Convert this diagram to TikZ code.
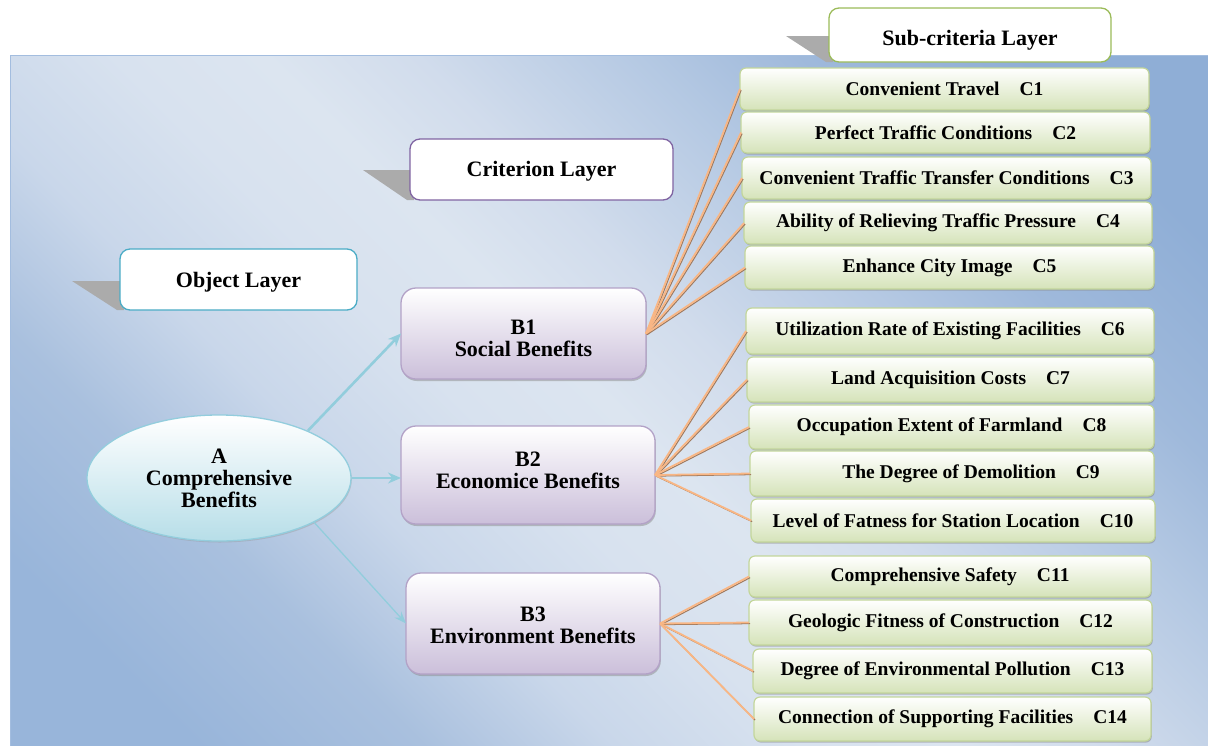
\documentclass[tikz,border=0pt]{standalone}
\usepackage{fontspec}
\setmainfont{Liberation Serif}
\usetikzlibrary{shadows,arrows.meta,shapes.geometric}
\definecolor{cborder}{HTML}{C3D69B}
\definecolor{cfill}{HTML}{D5E3B9}
\definecolor{bborder}{HTML}{B3A2C7}
\definecolor{bfill}{HTML}{CBBFDA}
\definecolor{aborder}{HTML}{93CDDD}
\definecolor{afill}{HTML}{B7DEE8}
\definecolor{orng}{HTML}{F9B684}
\definecolor{orngsh}{HTML}{A07A5E}
\definecolor{arrc}{HTML}{92CDDC}
\definecolor{objc}{HTML}{4BACC6}
\definecolor{crtc}{HTML}{8064A2}
\definecolor{subc}{HTML}{9BBB59}
\definecolor{panelb}{HTML}{A3BDDF}
\definecolor{bgA}{HTML}{98B5DA}
\definecolor{bgB}{HTML}{A9C0DE}
\definecolor{bgC}{HTML}{C9D7EA}
\definecolor{bgD}{HTML}{D8E2EF}
\definecolor{bgE}{HTML}{DCE5F0}
\definecolor{bgF}{HTML}{D1DCEC}
\definecolor{bgG}{HTML}{B5C9E3}
\definecolor{bgH}{HTML}{9FB9DB}
\definecolor{bgI}{HTML}{8FAED6}
\pgfdeclarehorizontalshading{bgsh}{100bp}{color(0bp)=(bgA); color(21.5bp)=(bgA); color(30bp)=(bgB); color(37.2bp)=(bgC); color(44.3bp)=(bgD); color(50bp)=(bgE); color(55.7bp)=(bgF); color(64bp)=(bgG); color(70.2bp)=(bgH); color(78.5bp)=(bgI); color(100bp)=(bgI)}
\begin{document}
\begin{tikzpicture}[x=1pt,y=-1pt,
  cbox/.style={draw=cborder, line width=1.2pt, rounded corners=6pt, top color=white, bottom color=cfill,
    inner sep=0pt, outer sep=0pt, font=\fontsize{19.5}{22}\selectfont\bfseries,
    drop shadow={shadow xshift=0.8pt, shadow yshift=-1.6pt, fill=black!45, opacity=0.55}},
  bbox/.style={draw=bborder, line width=1.3pt, rounded corners=15pt, top color=white, bottom color=bfill,
    inner sep=0pt, outer sep=0pt, align=center, font=\fontsize{22}{22}\selectfont\bfseries,
    drop shadow={shadow xshift=0.8pt, shadow yshift=-2pt, fill=black!45, opacity=0.5}},
  lbox/.style={fill=white, line width=1.3pt, rounded corners=10pt, inner sep=0pt, outer sep=0pt,
    text depth=4pt, font=\fontsize{22}{22}\selectfont\bfseries},
  lshadow/.style={fill=black!33},
  arr/.style={draw=arrc, line width=2.6pt, -{Stealth[length=13pt,width=11pt]}},
  arrthin/.style={draw=arrc, line width=1.3pt, -{Stealth[length=12pt,width=9pt]}},
  connsh/.style={draw=orngsh, line width=1.1pt, transform canvas={xshift=1.1pt,yshift=-1.1pt}},
  conn/.style={draw=orng, line width=1.8pt}]
\useasboundingbox (0,0) rectangle (1208,745);
\clip (0,0) rectangle (1208,745);
% background panel
\fill[shading=bgsh, shading angle=45] (10,55) rectangle (1208,745);
\draw[draw=panelb, line width=1pt] (10,55) rectangle (1214,752);

% layer label shadows and boxes
\fill[lshadow] (72,281) -- (124,281) -- (124,310) -- (117,310) -- cycle;
\node[lbox, draw=objc, minimum width=237, minimum height=61, text height=20pt] (obj) at (238.5,279.5) {Object Layer};
\fill[lshadow] (363,170) -- (414,170) -- (414,200) -- (407,200) -- cycle;
\node[lbox, draw=crtc, minimum width=263, minimum height=61, text height=18pt] (crt) at (541.5,169.5) {Criterion Layer};
\fill[lshadow] (786,36) -- (833,36) -- (833,62) -- (826,62) -- cycle;
\node[lbox, draw=subc, minimum width=282, minimum height=54, text height=24pt] (sub) at (970,35) {Sub-criteria Layer};

% A node
\node[ellipse, draw=aborder, line width=1.3pt, top color=white, bottom color=afill, inner sep=0pt,
  minimum width=264, minimum height=126, align=center, font=\fontsize{22}{22}\selectfont\bfseries,
  drop shadow={shadow xshift=0.8pt, shadow yshift=-1.5pt, fill=black!40, opacity=0.4}]
  (A) at (219,478) {A\\Comprehensive\\Benefits};

% B nodes
\node[bbox, minimum width=245, minimum height=91] (B1) at (523.5,333.5) {\rule{0pt}{24.5pt}B1\\Social Benefits};
\node[bbox, minimum width=254, minimum height=98] (B2) at (528,475) {B2\\Economice Benefits\rule[-10pt]{0pt}{10pt}};
\node[bbox, minimum width=254, minimum height=101] (B3) at (533,623.5) {\rule{0pt}{17.6pt}B3\\Environment Benefits};

% C nodes
\node[cbox, minimum width=409, minimum height=42] (C1) at (944.5,89) {Convenient Travel\hspace{20pt}C1};
\node[cbox, minimum width=409, minimum height=41] (C2) at (945.5,132.5) {Perfect Traffic Conditions\hspace{20pt}C2};
\node[cbox, minimum width=409, minimum height=42] (C3) at (946.5,178) {Convenient Traffic Transfer Conditions\hspace{20pt}C3};
\node[cbox, minimum width=408, minimum height=42] (C4) at (948,223) {Ability of Relieving Traffic Pressure\hspace{20pt}C4};
\node[cbox, minimum width=409, minimum height=43] (C5) at (949.5,267.5) {Enhance City Image\hspace{20pt}C5};
\node[cbox, minimum width=408, minimum height=46] (C6) at (950,331) {Utilization Rate of Existing Facilities\hspace{20pt}C6};
\node[cbox, minimum width=407, minimum height=45] (C7) at (950.5,379.5) {Land Acquisition Costs\hspace{20pt}C7};
\node[cbox, minimum width=405, minimum height=44] (C8) at (951.5,427) {Occupation Extent of Farmland\hspace{20pt}C8};
\node[cbox, minimum width=404, minimum height=45] (C9) at (952,473.5) {\hspace*{38pt}The Degree of Demolition\hspace{20pt}C9};
\node[cbox, minimum width=404, minimum height=43] (C10) at (953,520.5) {Level of Fatness for Station Location\hspace{20pt}C10};
\node[cbox, minimum width=402, minimum height=41] (C11) at (950,576.5) {Comprehensive Safety\hspace{20pt}C11};
\node[cbox, minimum width=403, minimum height=45] (C12) at (950.5,622.5) {Geologic Fitness of Construction\hspace{20pt}C12};
\node[cbox, minimum width=399, minimum height=44] (C13) at (952.5,671) {Degree of Environmental Pollution\hspace{20pt}C13};
\node[cbox, minimum width=397, minimum height=44] (C14) at (952.5,719) {Connection of Supporting Facilities\hspace{20pt}C14};

% arrows A -> B
\draw[arr] (A.28) -- (B1.west);
\draw[arr] (A.east) -- (A.east -| B2.west);
\draw[arrthin] (A.-25) -- (B3.west);

% connectors B -> C
\foreach \c in {1,...,5}{\draw[connsh] (B1.east) -- (C\c.west); \draw[conn] (B1.east) -- (C\c.west);}
\foreach \c in {6,...,10}{\draw[connsh] (B2.east) -- (C\c.west); \draw[conn] (B2.east) -- (C\c.west);}
\foreach \c in {11,...,14}{\draw[connsh] (B3.east) -- (C\c.west); \draw[conn] (B3.east) -- (C\c.west);}
\end{tikzpicture}
\end{document}
